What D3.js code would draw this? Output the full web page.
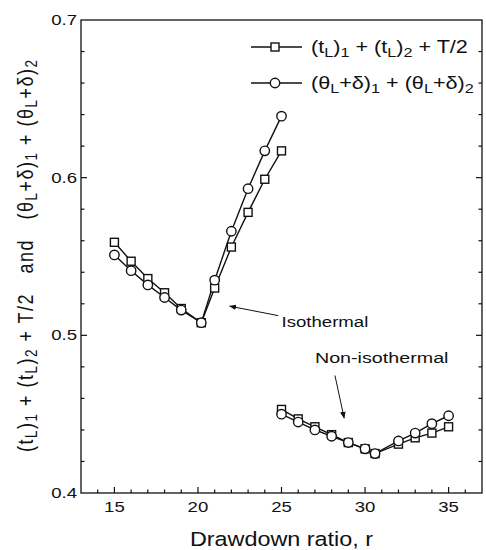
<!DOCTYPE html>
<html>
<head>
<meta charset="utf-8">
<script src="https://cdn.jsdelivr.net/npm/d3@7"></script>
<style>
  body { margin: 0; background: #fff; }
  text { font-family: "Liberation Sans", Arial, sans-serif; fill: #111; }
</style>
</head>
<body>
<div id="vis"></div>
<script>
const margin = { top: 20, right: 4, bottom: 57, left: 81 };
const width = 486 - margin.left - margin.right;
const height = 550 - margin.top - margin.bottom;

// isothermal branch
const rIso = [15, 16, 17, 18, 19, 20.2, 21, 22, 23, 24, 25];
const tIso = [0.559, 0.547, 0.536, 0.527, 0.517, 0.508, 0.530, 0.556, 0.578, 0.599, 0.617];
const thIso = [0.551, 0.541, 0.532, 0.524, 0.516, 0.508, 0.535, 0.566, 0.593, 0.617, 0.639];

// non-isothermal branch
const rNon = [25, 26, 27, 28, 29, 30, 30.6, 32, 33, 34, 35];
const tNon = [0.453, 0.447, 0.442, 0.437, 0.432, 0.428, 0.425, 0.431, 0.435, 0.438, 0.442];
const thNon = [0.450, 0.445, 0.440, 0.436, 0.432, 0.428, 0.425, 0.433, 0.438, 0.444, 0.449];

const xTicks = [15, 20, 25, 30, 35];
const yTicks = [0.4, 0.5, 0.6, 0.7];

const SX = 1.2; // the scan is stretched sideways, text too

const svg = d3.select('#vis')
    .append('svg')
    .attr('width', width + margin.left + margin.right)
    .attr('height', height + margin.top + margin.bottom)
    .append('g')
    .attr('transform', `translate(${margin.left},${margin.top})`);

const xScale = d3.scaleLinear().domain([13, 37]).range([0, width]);
const yScale = d3.scaleLinear().domain([0.4, 0.7]).range([height, 0]);

// frame
svg.append('rect')
    .attr('width', width).attr('height', height)
    .attr('fill', 'none').attr('stroke', '#111').attr('stroke-width', 1.3);

// inward ticks
const xMinor = d3.range(14, 37, 1);
const yMinor = d3.range(0.42, 0.7, 0.02);

function tickLen(isMajor) { return isMajor ? 6 : 3.5; }

xMinor.forEach(v => {
    const major = v % 5 === 0;
    svg.append('line')
        .attr('x1', xScale(v)).attr('x2', xScale(v))
        .attr('y1', height).attr('y2', height - tickLen(major))
        .attr('stroke', '#111').attr('stroke-width', 1.2);
});

yMinor.forEach(v => {
    const major = Math.abs(v * 10 - Math.round(v * 10)) < 1e-6;
    [0, width].forEach(x0 => {
        const dir = x0 === 0 ? 1 : -1;
        svg.append('line')
            .attr('x1', x0).attr('x2', x0 + dir * tickLen(major))
            .attr('y1', yScale(v)).attr('y2', yScale(v))
            .attr('stroke', '#111').attr('stroke-width', 1.2);
    });
});

// tick labels
svg.selectAll('.xlab')
    .data(xTicks)
    .join('text')
    .attr('class', 'xlab')
    .attr('transform', d => `translate(${xScale(d)},${height + 19}) scale(${SX},1)`)
    .attr('text-anchor', 'middle')
    .style('font-size', '15.5px')
    .text(d => d);

svg.selectAll('.ylab')
    .data(yTicks)
    .join('text')
    .attr('class', 'ylab')
    .attr('transform', d => `translate(-4,${yScale(d) + 5}) scale(${SX},1)`)
    .attr('text-anchor', 'end')
    .style('font-size', '15.5px')
    .text(d => d3.format('.1f')(d));

// axis titles
svg.append('text')
    .attr('transform', `translate(${width / 2},${height + 53}) scale(${SX},1)`)
    .attr('text-anchor', 'middle')
    .style('font-size', '19.5px')
    .text('Drawdown ratio, r');

function addSub(sel, parts, size) {
    parts.forEach(p => {
        const ts = sel.append('tspan').text(p[0]);
        if (p[1] === 'sub') {
            ts.attr('baseline-shift', '-28%').style('font-size', (size * 0.75) + 'px');
        }
    });
}

const yTitle = svg.append('text')
    .attr('transform', `translate(${-48},${236}) scale(${SX},1) rotate(-90)`)
    .attr('text-anchor', 'middle')
    .style('font-size', '18px')
    .attr('xml:space', 'preserve')
    .attr('textLength', 392)
    .attr('lengthAdjust', 'spacing');
addSub(yTitle, [
    ['(t'], ['L', 'sub'], [')'], ['1', 'sub'], [' + (t'], ['L', 'sub'], [')'], ['2', 'sub'],
    [' + T/2   and   (\u03b8'], ['L', 'sub'], ['+\u03b4)'], ['1', 'sub'],
    [' + (\u03b8'], ['L', 'sub'], ['+\u03b4)'], ['2', 'sub']
], 18);

// series
const line = d3.line().x(d => xScale(d[0])).y(d => yScale(d[1]));

const series = [
    { r: rIso, v: tIso, shape: 'square' },
    { r: rIso, v: thIso, shape: 'circle' },
    { r: rNon, v: tNon, shape: 'square' },
    { r: rNon, v: thNon, shape: 'circle' }
];

function drawMarker(g, x, y, shape) {
    if (shape === 'square') {
        g.append('rect')
            .attr('x', x - 4).attr('y', y - 4)
            .attr('width', 8).attr('height', 8)
            .attr('fill', '#fff').attr('stroke', '#111').attr('stroke-width', 1.4);
    } else {
        g.append('circle')
            .attr('cx', x).attr('cy', y).attr('r', 4.7)
            .attr('fill', '#fff').attr('stroke', '#111').attr('stroke-width', 1.4);
    }
}

series.forEach(s => {
    const pts = s.r.map((r, i) => [r, s.v[i]]);
    svg.append('path')
        .attr('d', line(pts))
        .attr('fill', 'none').attr('stroke', '#111').attr('stroke-width', 1.4);
});
series.forEach(s => {
    const g = svg.append('g');
    s.r.forEach((r, i) => drawMarker(g, xScale(r), yScale(s.v[i]), s.shape));
});

// legend
const legend = [
    { shape: 'square', parts: [['(t'], ['L', 'sub'], [')'], ['1', 'sub'], [' + (t'], ['L', 'sub'], [')'], ['2', 'sub'], [' + T/2']] },
    { shape: 'circle', parts: [['(\u03b8'], ['L', 'sub'], ['+\u03b4)'], ['1', 'sub'], [' + (\u03b8'], ['L', 'sub'], ['+\u03b4)'], ['2', 'sub']] }
];
legend.forEach((d, i) => {
    const ly = 27 + i * 36;
    const g = svg.append('g');
    g.append('line')
        .attr('x1', 170).attr('x2', 221)
        .attr('y1', ly).attr('y2', ly)
        .attr('stroke', '#111').attr('stroke-width', 1.3);
    drawMarker(g, 194, ly, d.shape);
    const t = g.append('text')
        .attr('transform', `translate(230,${ly + 6}) scale(${SX},1)`)
        .style('font-size', '18px')
        .attr('xml:space', 'preserve');
    addSub(t, d.parts, 18);
});

// annotations
svg.append('defs').append('marker')
    .attr('id', 'arr')
    .attr('viewBox', '0 0 10 10')
    .attr('refX', 9).attr('refY', 5)
    .attr('markerWidth', 7).attr('markerHeight', 7)
    .attr('orient', 'auto')
    .append('path').attr('d', 'M0,1 L10,5 L0,9 Z').attr('fill', '#111');

svg.append('line')
    .attr('x1', xScale(24.8)).attr('y1', yScale(0.5125))
    .attr('x2', xScale(21.9)).attr('y2', yScale(0.5185))
    .attr('stroke', '#111').attr('stroke-width', 1)
    .attr('marker-end', 'url(#arr)');
svg.append('text')
    .attr('transform', `translate(${xScale(25)},${yScale(0.505)}) scale(${SX},1)`)
    .style('font-size', '15.5px')
    .text('Isothermal');

svg.append('line')
    .attr('x1', xScale(28.2)).attr('y1', yScale(0.4745))
    .attr('x2', xScale(28.75)).attr('y2', yScale(0.4475))
    .attr('stroke', '#111').attr('stroke-width', 1)
    .attr('marker-end', 'url(#arr)');
svg.append('text')
    .attr('transform', `translate(${xScale(27)},${yScale(0.4825)}) scale(${SX * 1.06},1)`)
    .style('font-size', '15.5px')
    .text('Non-isothermal');
</script>
</body>
</html>
